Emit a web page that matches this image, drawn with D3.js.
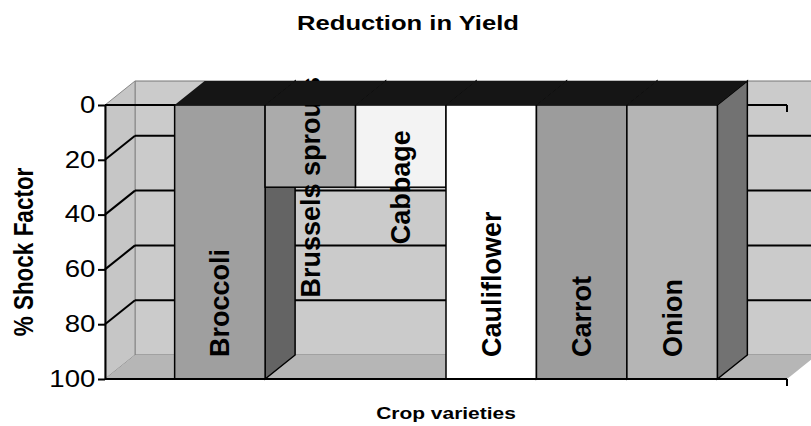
<!DOCTYPE html>
<html>
<head>
<meta charset="utf-8">
<script src="https://cdn.jsdelivr.net/npm/d3@7"></script>
<style>
  body { margin: 0; background: #fff; }
  text { font-family: Arial, "Liberation Sans", sans-serif; }
</style>
</head>
<body>
<svg id="svg" width="811" height="426"></svg>
<script>
// chart data
const categories = ['Broccoli', 'Brussels sprouts', 'Cabbage', 'Cauliflower', 'Carrot', 'Onion'];
const shockFactor = [100, 30, 30, 100, 100, 100];
const yTicks = [0, 20, 40, 60, 80, 100];

// greys of the scanned original
const barFills = ['#9f9f9f', '#ababab', '#f3f3f3', '#ffffff', '#9c9c9c', '#b5b5b5'];

const front = { left: 105, right: 787, top: 105, bottom: 379 };
const depth = { dx: 30, dy: -24 };

const svg = d3.select('#svg');

const x = d3.scaleBand()
  .domain(categories)
  .range([front.left, front.right])
  .paddingInner(0)
  .paddingOuter(0.77);

const y = d3.scaleLinear()
  .domain([0, 100])
  .range([front.top, front.bottom]);

const pts = (arr) => arr.map((p) => p.join(',')).join(' ');

// walls and floor
const g = svg.append('g');
const backL = front.left + depth.dx, backR = front.right + depth.dx;
const backTop = y(0) + depth.dy, backBot = y(100) + depth.dy;

g.append('polygon')
  .attr('points', pts([[backL, backTop], [backR, backTop], [backR, backBot], [backL, backBot]]))
  .attr('fill', '#cbcbcb')
  .attr('stroke', '#777')
  .attr('stroke-width', 1);

g.append('polygon')
  .attr('points', pts([[front.left, y(0)], [backL, backTop], [backL, backBot], [front.left, y(100)]]))
  .attr('fill', '#c6c6c6')
  .attr('stroke', '#888')
  .attr('stroke-width', 1);

g.append('polygon')
  .attr('points', pts([[front.left, y(100)], [front.right, y(100)], [backR, backBot], [backL, backBot]]))
  .attr('fill', '#b6b6b6');

// gridlines on side wall and back wall
const grid = yTicks.filter((d) => d > 0 && d < 100);
g.selectAll('.gridSide')
  .data(grid)
  .join('line')
  .attr('x1', front.left).attr('y1', (d) => y(d))
  .attr('x2', backL).attr('y2', (d) => y(d) + depth.dy)
  .attr('stroke', '#000').attr('stroke-width', 2);

g.selectAll('.gridBack')
  .data(grid)
  .join('line')
  .attr('x1', backL).attr('y1', (d) => y(d) + depth.dy)
  .attr('x2', backR).attr('y2', (d) => y(d) + depth.dy)
  .attr('stroke', '#000').attr('stroke-width', 2);

// top front edge (category axis at 0)
g.append('line')
  .attr('x1', front.left).attr('y1', y(0))
  .attr('x2', front.right).attr('y2', y(0))
  .attr('stroke', '#000').attr('stroke-width', 2);
g.append('line')
  .attr('x1', front.right).attr('y1', y(0))
  .attr('x2', front.right).attr('y2', y(0) + 7)
  .attr('stroke', '#000').attr('stroke-width', 2);

// bars, left to right so the next bar hides the previous side face
const bars = svg.append('g');
categories.forEach((c, i) => {
  const x0 = x(c), x1 = x(c) + x.bandwidth();
  const yb = y(shockFactor[i]), y0 = y(0);
  const fill = barFills[i];

  bars.append('polygon')
    .attr('points', pts([[x1, y0], [x1 + depth.dx, y0 + depth.dy], [x1 + depth.dx, yb + depth.dy], [x1, yb]]))
    .attr('fill', d3.color(fill).darker(1.3))
    .attr('stroke', '#000').attr('stroke-width', 1.5);

  bars.append('rect')
    .attr('x', x0).attr('y', y0)
    .attr('width', x.bandwidth())
    .attr('height', yb - y0)
    .attr('fill', fill)
    .attr('stroke', '#000').attr('stroke-width', 1.5);
});

// category labels inside the bars
const labels = svg.append('g');
categories.forEach((c, i) => {
  const v = shockFactor[i];
  const cx = x(c) + x.bandwidth() / 2;
  const full = v > 50;
  const ly = full ? y(v) - 22 : y(v);
  labels.append('text')
    .attr('transform', `translate(${cx},${ly}) rotate(-90)`)
    .attr('text-anchor', full ? 'start' : 'middle')
    .attr('dy', '0.35em')
    .attr('font-size', 27)
    .attr('font-weight', 'bold')
    .attr('fill', '#000')
    .text(c);
});

// top faces
const tops = svg.append('g');
categories.forEach((c) => {
  const x0 = x(c), x1 = x(c) + x.bandwidth();
  tops.append('polygon')
    .attr('points', pts([[x0, y(0)], [x1, y(0)], [x1 + depth.dx, y(0) + depth.dy], [x0 + depth.dx, y(0) + depth.dy]]))
    .attr('fill', '#151515');
});

// bottom front edge
svg.append('line')
  .attr('x1', front.left).attr('y1', y(100))
  .attr('x2', front.right).attr('y2', y(100))
  .attr('stroke', '#000').attr('stroke-width', 2);
svg.append('line')
  .attr('x1', front.right).attr('y1', y(100))
  .attr('x2', front.right).attr('y2', y(100) + 7)
  .attr('stroke', '#000').attr('stroke-width', 2);

// value axis
const yAxis = d3.axisLeft(y).tickValues(yTicks).tickSize(7).tickSizeOuter(0);
const ax = svg.append('g')
  .attr('transform', `translate(${front.left},0)`)
  .call(yAxis);
ax.select('.domain').attr('stroke', '#000').attr('stroke-width', 2);
ax.selectAll('.tick line').attr('stroke', '#000').attr('stroke-width', 2);
ax.selectAll('.tick text')
  .attr('font-size', 23)
  .attr('font-family', 'Arial, "Liberation Sans", sans-serif')
  .attr('fill', '#000')
  .attr('x', -8)
  .attr('transform', 'scale(1.2,1)');

// titles
svg.append('text')
  .attr('transform', 'translate(408,30) scale(1.22,1)')
  .attr('text-anchor', 'middle')
  .attr('font-size', 21)
  .attr('font-weight', 'bold')
  .text('Reduction in Yield');

svg.append('text')
  .attr('transform', 'translate(446,419) scale(1.27,1)')
  .attr('text-anchor', 'middle')
  .attr('font-size', 16.5)
  .attr('font-weight', 'bold')
  .text('Crop varieties');

svg.append('text')
  .attr('transform', 'translate(33,252) scale(1.2,1) rotate(-90)')
  .attr('text-anchor', 'middle')
  .attr('font-size', 22.5)
  .attr('font-weight', 'bold')
  .text('% Shock Factor');
</script>
</body>
</html>
